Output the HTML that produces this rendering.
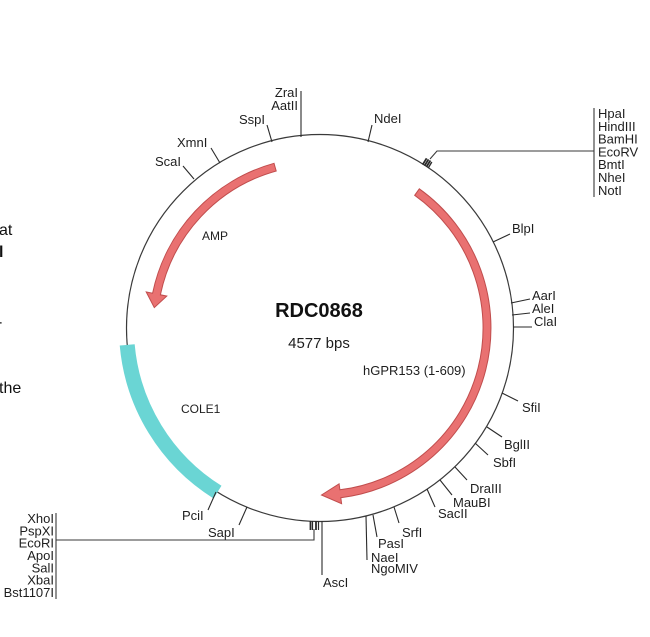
<!DOCTYPE html>
<html>
<head>
<meta charset="utf-8">
<style>
  html, body { margin: 0; padding: 0; background: #ffffff; }
  body { width: 650px; height: 637px; overflow: hidden; }
  svg { display: block; }
  text { font-family: "Liberation Sans", Arial, sans-serif; fill: #1e1e1e; }
  .lbl { font-size: 13px; }
  .frag { font-size: 16px; fill: #111; }
</style>
</head>
<body>
<svg width="650" height="637" viewBox="0 0 650 637" xmlns="http://www.w3.org/2000/svg">
  <rect x="0" y="0" width="650" height="637" fill="#ffffff"/>

  <!-- left cropped text fragments -->
  <text class="frag" x="-1" y="235">at</text>
  <text class="frag" x="-1" y="257" font-weight="bold">l</text>
  <text class="frag" x="-3" y="327">-</text>
  <text class="frag" x="-1" y="393">the</text>

  <!-- backbone circle -->
  <circle cx="320" cy="328" r="193.5" fill="none" stroke="#3a3a3a" stroke-width="1.2"/>

  <!-- COLE1 band -->
  <path d="M 127.2,344.9 A 193.5 193.5 0 0 0 217.5,492.1" fill="none" stroke="#6ad5d4" stroke-width="15"/>

  <!-- hGPR153 arrow -->
  <path d="M 419.3,188.8 A 171 171 0 0 1 340.8,497.7 L 341.6,503.7 L 321.5,495.0 L 339.1,483.8 L 339.9,489.8 A 163 163 0 0 0 414.7,195.3 Z"
        fill="#e97171" stroke="#c04d4d" stroke-width="1"/>

  <!-- AMP arrow -->
  <path d="M 274.0,163.3 A 171 171 0 0 0 152.6,293.2 L 146.2,291.9 L 154.3,307.6 L 166.8,296.1 L 160.4,294.8 A 163 163 0 0 1 276.2,171.0 Z"
        fill="#e97171" stroke="#c04d4d" stroke-width="1"/>

  <!-- restriction site ticks -->
  <g stroke="#2a2a2a" stroke-width="1.1" fill="none">
    <line x1="194" y1="179" x2="183" y2="166"/>
    <line x1="220" y1="163" x2="211" y2="148"/>
    <line x1="272" y1="142" x2="267" y2="125"/>
    <line x1="301" y1="137" x2="301" y2="91"/>
    <line x1="368" y1="142" x2="372" y2="125"/>
    <line x1="493" y1="242" x2="510" y2="234"/>
    <line x1="511" y1="303" x2="530" y2="299"/>
    <line x1="512" y1="315" x2="530" y2="313"/>
    <line x1="513" y1="327" x2="532" y2="327"/>
    <line x1="502" y1="393" x2="518" y2="401"/>
    <line x1="487" y1="427" x2="502" y2="437"/>
    <line x1="475" y1="443" x2="488" y2="455"/>
    <line x1="455" y1="467" x2="467" y2="480"/>
    <line x1="440" y1="480" x2="452" y2="495"/>
    <line x1="427" y1="489" x2="435" y2="507"/>
    <line x1="394" y1="507" x2="399" y2="523"/>
    <line x1="373" y1="515" x2="377" y2="537"/>
    <line x1="366" y1="516" x2="367" y2="560"/>
    <line x1="322" y1="521" x2="322" y2="575"/>
    <line x1="216" y1="492" x2="208" y2="510"/>
    <line x1="247" y1="507" x2="239" y2="525"/>

    <!-- top MCS cluster -->
    <line x1="422.6" y1="164.7" x2="426.6" y2="158.3" stroke-width="1.8"/>
    <line x1="424.5" y1="165.8" x2="428.5" y2="159.4" stroke-width="1.8"/>
    <line x1="426.4" y1="166.9" x2="430.4" y2="160.5" stroke-width="1.8"/>
    <line x1="428.2" y1="168.0" x2="431.8" y2="162.0" stroke-width="1.4"/>
    <polyline points="430,159 437,151 594,151" stroke="#3a3a3a"/>
    <line x1="594" y1="108" x2="594" y2="197" stroke="#3a3a3a"/>

    <!-- bottom MCS cluster -->
    <line x1="310.5" y1="521" x2="310.5" y2="530" stroke-width="1.8"/>
    <line x1="312.5" y1="521" x2="312.5" y2="530" stroke-width="1.2"/>
    <line x1="316" y1="521" x2="316" y2="530" stroke-width="1.8"/>
    <line x1="318.5" y1="521" x2="318.5" y2="530" stroke-width="1.2"/>
    <polyline points="314,529 314,540 56,540" stroke="#3a3a3a"/>
    <line x1="56" y1="513" x2="56" y2="599" stroke="#3a3a3a"/>
  </g>

  <!-- center labels -->
  <text x="319" y="317" font-size="20" font-weight="bold" text-anchor="middle" style="fill:#111">RDC0868</text>
  <text x="319" y="348" font-size="15" text-anchor="middle">4577 bps</text>
  <text x="363" y="375" font-size="13">hGPR153 (1-609)</text>
  <text x="181" y="413" font-size="12">COLE1</text>
  <text x="202" y="240" font-size="12">AMP</text>

  <!-- restriction labels -->
  <g class="lbl">
    <text x="155" y="166">ScaI</text>
    <text x="177" y="147">XmnI</text>
    <text x="239" y="124">SspI</text>
    <text x="298" y="97" text-anchor="end">ZraI</text>
    <text x="298" y="110" text-anchor="end">AatII</text>
    <text x="374" y="123">NdeI</text>
    <text x="512" y="233">BlpI</text>
    <text x="532" y="300">AarI</text>
    <text x="532" y="313">AleI</text>
    <text x="534" y="326">ClaI</text>
    <text x="522" y="412">SfiI</text>
    <text x="504" y="449">BglII</text>
    <text x="493" y="467">SbfI</text>
    <text x="470" y="493">DraIII</text>
    <text x="453" y="507">MauBI</text>
    <text x="438" y="518">SacII</text>
    <text x="402" y="537">SrfI</text>
    <text x="378" y="548">PasI</text>
    <text x="371" y="562">NaeI</text>
    <text x="371" y="573">NgoMIV</text>
    <text x="323" y="587">AscI</text>
    <text x="182" y="520">PciI</text>
    <text x="208" y="537">SapI</text>

    <!-- right bracket list -->
    <text x="598" y="118">HpaI</text>
    <text x="598" y="130.8">HindIII</text>
    <text x="598" y="143.6">BamHI</text>
    <text x="598" y="156.4">EcoRV</text>
    <text x="598" y="169.2">BmtI</text>
    <text x="598" y="182">NheI</text>
    <text x="598" y="194.8">NotI</text>

    <!-- left bracket list -->
    <text x="54" y="523" text-anchor="end">XhoI</text>
    <text x="54" y="535.3" text-anchor="end">PspXI</text>
    <text x="54" y="547.7" text-anchor="end">EcoRI</text>
    <text x="54" y="560" text-anchor="end">ApoI</text>
    <text x="54" y="572.3" text-anchor="end">SalI</text>
    <text x="54" y="584.7" text-anchor="end">XbaI</text>
    <text x="54" y="597" text-anchor="end">Bst1107I</text>
  </g>
</svg>
</body>
</html>
